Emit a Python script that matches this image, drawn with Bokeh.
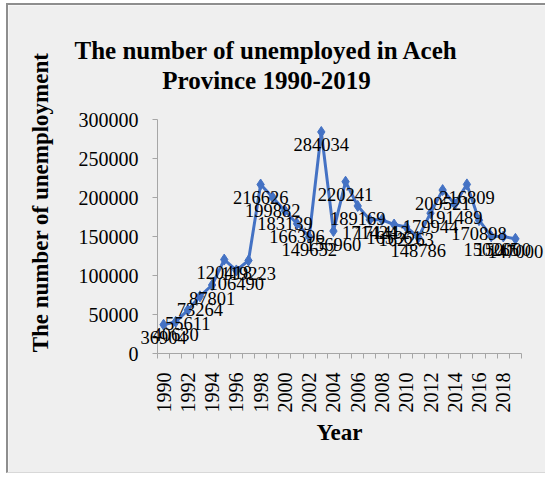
from math import pi
from bokeh.plotting import figure
from bokeh.models import ColumnDataSource, FixedTicker, LabelSet, Label, Range1d, NumeralTickFormatter
from bokeh.embed import file_html
from bokeh.resources import INLINE

years = list(range(1990, 2020))
unemployed = [36904, 40630, 55611, 73264, 87801, 120418, 106490, 119223, 216626, 199882,
              183139, 166396, 149652, 284034, 156960, 220241, 189169, 171424, 171412, 165361,
              162263, 148786, 179944, 209521, 191489, 216809, 170898, 150265, 150000, 147000]
y_ticks = [0, 50000, 100000, 150000, 200000, 250000, 300000]
x_tick_years = list(range(1990, 2019, 2))

title_lines = ["The number of unemployed in Aceh", "Province 1990-2019"]
x_title = "Year"
y_title = "The number of unemployment"

FONT = "Liberation Serif"
BLUE = "#4472C4"
BG = "#efefef"
AXIS = "#a6a6a6"

# ---- layout (canvas pixels) ----
W, H = 539, 470
AX_LEFT, AX_RIGHT = 149, 513     # where the category axis starts / ends
AX_BOTTOM, AX_TOP = 348, 114     # where the value axis starts / ends

x_lo, x_hi = years[0] - 0.5, years[-1] + 0.5
px_per_x = (AX_RIGHT - AX_LEFT) / (x_hi - x_lo)
y_lo, y_hi = y_ticks[0], y_ticks[-1]
px_per_y = (AX_BOTTOM - AX_TOP) / (y_hi - y_lo)

x_range = Range1d(x_lo - AX_LEFT / px_per_x, x_hi + (W - AX_RIGHT) / px_per_x)
y_range = Range1d(y_lo - (H - AX_BOTTOM) / px_per_y, y_hi + AX_TOP / px_per_y)

src = ColumnDataSource(dict(year=years, value=unemployed, label=[str(v) for v in unemployed]))

p = figure(width=W, height=H, x_range=x_range, y_range=y_range, title=None,
           output_backend="svg", toolbar_location=None, min_border=0,
           background_fill_color=BG, border_fill_color=BG, outline_line_color=None)
p.styles = {"margin-left": "6px", "margin-top": "3px",
            "border-left": "2px solid #8e8e8e", "border-top": "2px solid #8e8e8e",
            "border-bottom": "1px solid #d8d8d8"}

p.xgrid.grid_line_color = None
p.ygrid.grid_line_color = None

# x axis
p.xaxis.fixed_location = y_lo
p.xaxis.bounds = (x_lo, x_hi)
p.xaxis.ticker = FixedTicker(ticks=x_tick_years, minor_ticks=[y - 0.5 for y in years] + [x_hi])
p.xaxis.major_tick_out = 0
p.xaxis.major_tick_in = 0
p.xaxis.minor_tick_out = 5
p.xaxis.minor_tick_in = 0
p.xaxis.major_label_orientation = pi / 2
p.xaxis.major_label_standoff = 14

# y axis
p.yaxis.fixed_location = x_lo
p.yaxis.bounds = (y_lo, y_hi)
p.yaxis.ticker = FixedTicker(ticks=y_ticks)
p.yaxis.formatter = NumeralTickFormatter(format="0")
p.yaxis.major_tick_out = 5
p.yaxis.major_tick_in = 0
p.yaxis.minor_tick_out = 0
p.yaxis.minor_tick_in = 0
p.yaxis.major_label_standoff = 14

for ax in (p.xaxis, p.yaxis):
    ax.axis_line_color = AXIS
    ax.major_tick_line_color = AXIS
    ax.minor_tick_line_color = AXIS
    ax.major_label_text_font = FONT
    ax.major_label_text_font_size = "20px"
    ax.major_label_text_color = "black"

p.line(x="year", y="value", source=src, line_color=BLUE, line_width=3)
p.scatter(x="year", y="value", source=src, marker="diamond", size=11,
          fill_color=BLUE, line_color=BLUE)

p.add_layout(LabelSet(x="year", y="value", text="label", source=src,
                      text_align="center", text_baseline="middle", y_offset=-13,
                      text_font=FONT, text_font_size="18.5px", text_color="black"))

for txt, yy in zip(title_lines, [425, 395]):
    p.add_layout(Label(x=258, y=yy, x_units="screen", y_units="screen", text=txt,
                       text_align="center", text_baseline="alphabetic",
                       text_font=FONT, text_font_style="bold", text_font_size="25px",
                       text_color="black"))

p.add_layout(Label(x=331, y=43, x_units="screen", y_units="screen", text=x_title,
                   text_align="center", text_baseline="middle",
                   text_font=FONT, text_font_style="bold", text_font_size="23px",
                   text_color="black"))
p.add_layout(Label(x=32, y=273, x_units="screen", y_units="screen", text=y_title,
                   angle=pi / 2, text_align="center", text_baseline="middle",
                   text_font=FONT, text_font_style="bold", text_font_size="23px",
                   text_color="black"))

open("out.html", "w").write(file_html(p, INLINE))
